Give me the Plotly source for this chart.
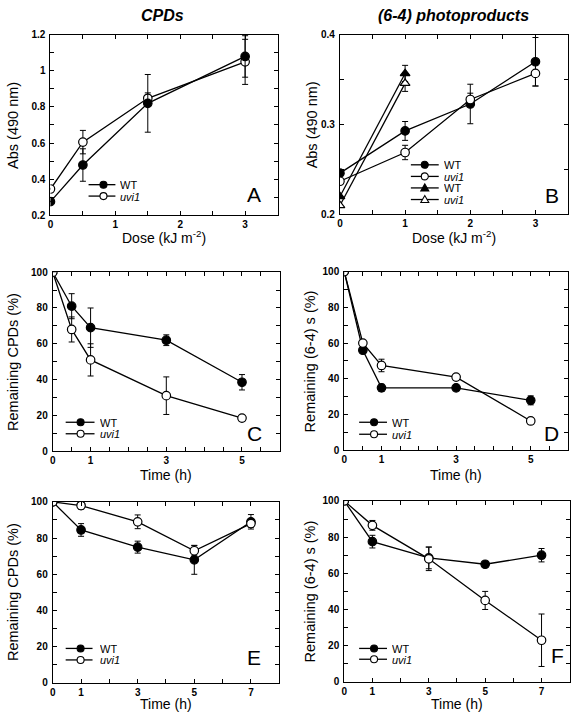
import plotly.graph_objects as go

W, H = 576, 721

# ---------------- data ----------------
A_dose = [0, 0.5, 1.5, 3]
A_wt = [0.275, 0.478, 0.82, 1.08]
A_wt_err = [0, 0.09, 0.16, 0.115]
A_uvi = [0.345, 0.605, 0.848, 1.05]
A_uvi_err = [0, 0.065, 0.03, 0.125]

B_dose = [0, 1, 2, 3]
B_wt = [0.246, 0.293, 0.323, 0.370]
B_wt_err = [0, 0.0105, 0.022, 0.027]
B_uvi = [0.237, 0.269, 0.328, 0.357]
B_uvi_err = [0, 0.008, 0.007, 0.014]
B_dose2 = [0, 1]
B_wt2 = [0.220, 0.357]
B_wt2_err = [0, 0.009]
B_uvi2 = [0.210, 0.346]
B_uvi2_err = [0, 0.009]

C_time = [0, 0.5, 1, 3, 5]
C_wt = [100, 81, 69, 62, 38.5]
C_wt_err = [0, 7, 11, 3, 4.3]
C_uvi = [100, 68, 51, 31, 18.5]
C_uvi_err = [0, 7, 9, 10.5, 0]

D_time = [0, 0.5, 1, 3, 5]
D_wt = [100, 56, 35, 35, 28]
D_wt_err = [0, 0, 2, 0, 2.5]
D_uvi = [100, 60, 47.5, 41, 16.5]
D_uvi_err = [0, 0, 3.5, 1, 1.5]

E_time = [0, 1, 3, 5, 7]
E_wt = [100, 84.5, 75, 68, 89]
E_wt_err = [0, 3.5, 3.3, 8, 4]
E_uvi = [100, 98, 89, 73, 88]
E_uvi_err = [0, 2, 3.8, 2.8, 2]

F_time = [0, 1, 3, 5, 7]
F_wt = [100, 77.5, 68.5, 65, 70]
F_wt_err = [0, 3.5, 6, 0, 3.7]
F_uvi = [100, 86.5, 68, 45, 23]
F_uvi_err = [0, 2.7, 6.5, 5, 14.5]

FONT = "Liberation Sans, Arial, Helvetica, sans-serif"

def px(x):
    return x / W

def py(y):
    return 1 - y / H

fig = go.Figure()

def add_series(ax, x, y, err, symbol, filled):
    fig.add_trace(go.Scatter(
        x=x, y=y, mode="lines+markers",
        xaxis="x" + ("" if ax == 1 else str(ax)),
        yaxis="y" + ("" if ax == 1 else str(ax)),
        line=dict(color="black", width=1.3),
        marker=dict(symbol=symbol, size=8.5,
                    color="black" if filled else "white",
                    line=dict(color="black", width=1.2)),
        error_y=dict(type="data", array=err, visible=True,
                     color="black", thickness=1, width=3),
        showlegend=False, hoverinfo="skip",
    ))

add_series(1, A_dose, A_uvi, A_uvi_err, "circle", False)
add_series(1, A_dose, A_wt, A_wt_err, "circle", True)
add_series(2, B_dose, B_wt, B_wt_err, "circle", True)
add_series(2, B_dose, B_uvi, B_uvi_err, "circle", False)
add_series(2, B_dose2, B_wt2, B_wt2_err, "triangle-up", True)
add_series(2, B_dose2, B_uvi2, B_uvi2_err, "triangle-up", False)
add_series(3, C_time, C_wt, C_wt_err, "circle", True)
add_series(3, C_time, C_uvi, C_uvi_err, "circle", False)
add_series(4, D_time, D_wt, D_wt_err, "circle", True)
add_series(4, D_time, D_uvi, D_uvi_err, "circle", False)
add_series(5, E_time, E_wt, E_wt_err, "circle", True)
add_series(5, E_time, E_uvi, E_uvi_err, "circle", False)
add_series(6, F_time, F_wt, F_wt_err, "circle", True)
add_series(6, F_time, F_uvi, F_uvi_err, "circle", False)

# panel pixel boxes (left, right, top, bottom)
boxes = {
    1: (47.7, 276.0, 29.3, 212.7),
    2: (338.7, 568.0, 29.3, 212.0),
    3: (50.0, 278.3, 270.7, 452.7),
    4: (343.0, 568.0, 270.0, 452.0),
    5: (50.0, 277.7, 504.3, 688.3),
    6: (343.0, 569.7, 503.3, 687.3),
}

tickfont = dict(family=FONT, size=10, color="black", weight="bold")

def axis_common():
    return dict(showline=True, linecolor="black", linewidth=1, mirror="allticks",
                ticks="inside", ticklen=4, tickcolor="black", tickwidth=1,
                showgrid=False, zeroline=False, tickfont=tickfont,
                fixedrange=True)

xcfg = {
    1: dict(range=[0, 3.5], tickvals=[0, 1, 2, 3], minor_dtick=0.5),
    2: dict(range=[0, 3.5], tickvals=[0, 1, 2, 3], minor_dtick=0.5),
    3: dict(range=[0, 6], tickvals=[0, 1, 3, 5], minor_dtick=0.5),
    4: dict(range=[0, 6], tickvals=[0, 1, 3, 5], minor_dtick=0.5),
    5: dict(range=[0, 8], tickvals=[0, 1, 3, 5, 7], minor_dtick=1),
    6: dict(range=[0, 8], tickvals=[0, 1, 3, 5, 7], minor_dtick=1),
}
ycfg = {
    1: dict(range=[0.2, 1.2], tickvals=[0.2, 0.4, 0.6, 0.8, 1.0, 1.2],
            ticktext=["0.2", "0.4", "0.6", "0.8", "1", "1.2"], minor_dtick=0.1),
    2: dict(range=[0.2, 0.4], tickvals=[0.2, 0.3, 0.4],
            ticktext=["0.2", "0.3", "0.4"], minor_dtick=0.05),
}
for k in (3, 4, 5, 6):
    ycfg[k] = dict(range=[0, 100], tickvals=[0, 20, 40, 60, 80, 100],
                   ticktext=["0", "20", "40", "60", "80", "100"], minor_dtick=10)

layout = dict(width=W, height=H, margin=dict(l=0, r=0, t=0, b=0),
              paper_bgcolor="white", plot_bgcolor="white",
              font=dict(family=FONT, color="black"), showlegend=False)

for k in range(1, 7):
    l, r, t, b = boxes[k]
    xs = "xaxis" + ("" if k == 1 else str(k))
    ys = "yaxis" + ("" if k == 1 else str(k))
    xc = xcfg[k]
    yc = ycfg[k]
    xa = axis_common()
    xa.update(domain=[px(l), px(r)], range=xc["range"], tickmode="array",
              tickvals=xc["tickvals"], ticktext=[str(v) for v in xc["tickvals"]],
              anchor="y" + ("" if k == 1 else str(k)),
              minor=dict(ticks="inside", ticklen=4, dtick=xc["minor_dtick"],
                         tickcolor="black", tickwidth=1, showgrid=False))
    ya = axis_common()
    ya.update(domain=[py(b), py(t)], range=yc["range"], tickmode="array",
              tickvals=yc["tickvals"], ticktext=yc["ticktext"],
              anchor="x" + ("" if k == 1 else str(k)), ticklabelstandoff=2,
              minor=dict(ticks="inside", ticklen=4, dtick=yc["minor_dtick"],
                         tickcolor="black", tickwidth=1, showgrid=False))
    layout[xs] = xa
    layout[ys] = ya

fig.update_layout(**layout)

annotations = []
shapes = []

def text(x, y, s, size, angle=0, bold=False, italic=False):
    annotations.append(dict(
        x=px(x), y=py(y), xref="paper", yref="paper", text=s, showarrow=False,
        xanchor="center", yanchor="middle", textangle=angle,
        font=dict(family=FONT, size=size, color="black",
                  weight="bold" if bold else "normal",
                  style="italic" if italic else "normal")))

# column titles
text(160, 10, "CPDs", 16, bold=True, italic=True)
text(453, 10, "(6-4) photoproducts", 16, bold=True, italic=True)

# axis titles
dose_title = "Dose (kJ m<sup>-2</sup>)"
text(162, 235, dose_title, 14)
text(453, 235, dose_title, 14)
text(164, 477, "Time (h)", 14)
text(455, 477, "Time (h)", 14)
text(164, 710, "Time (h)", 14)
text(456, 710, "Time (h)", 14)
text(10, 121, "Abs (490 nm)", 14.5, angle=-90)
text(311, 121, "Abs (490 nm)", 14.5, angle=-90)
text(10, 362, "Remaining CPDs (%)", 14.5, angle=-90)
text(309, 361, "Remaining (6-4) s (%)", 14.5, angle=-90)
text(10, 596, "Remaining CPDs (%)", 14.5, angle=-90)
text(309, 595, "Remaining (6-4) s (%)", 14.5, angle=-90)

# panel letters
for letter, (lx, ly) in {"A": (252, 192), "B": (552, 193), "C": (253, 435),
                         "D": (551, 435), "E": (252, 663), "F": (557, 661)}.items():
    text(lx, ly, letter, 21)

# legend glyphs
def legend_entry(x0, x1, xm, xt, y, label, symbol, filled):
    shapes.append(dict(type="line", xref="paper", yref="paper",
                       x0=px(x0), x1=px(x1), y0=py(y), y1=py(y),
                       line=dict(color="black", width=1.3)))
    fill = "black" if filled else "white"
    if symbol == "circle":
        shapes.append(dict(type="circle", xref="paper", yref="paper",
                           xsizemode="pixel", ysizemode="pixel",
                           xanchor=px(xm), yanchor=py(y),
                           x0=-3.5, x1=3.5, y0=-3.5, y1=3.5,
                           fillcolor=fill, line=dict(color="black", width=1.1)))
    else:
        shapes.append(dict(type="path", xref="paper", yref="paper",
                           xsizemode="pixel", ysizemode="pixel",
                           xanchor=px(xm), yanchor=py(y),
                           path="M -4,-3 L 4,-3 L 0,4 Z",
                           fillcolor=fill, line=dict(color="black", width=1.1)))
    annotations.append(dict(
        x=px(xt), y=py(y), xref="paper", yref="paper", text=label, showarrow=False,
        xanchor="left", yanchor="middle", height=11, borderpad=0,
        font=dict(family=FONT, size=11, color="black")))

WT = "WT"
UVI = "<i>uvi1</i>"
legend_entry(86, 113, 101, 117, 181.7, WT, "circle", True)
legend_entry(86, 113, 101, 117, 193.3, UVI, "circle", False)
legend_entry(410, 438, 424, 442, 161.5, WT, "circle", True)
legend_entry(410, 438, 424, 442, 173.3, UVI, "circle", False)
legend_entry(410, 438, 424, 442, 185.0, WT, "triangle", True)
legend_entry(410, 438, 424, 442, 196.8, UVI, "triangle", False)
legend_entry(63, 92, 78, 96, 423.3, WT, "circle", True)
legend_entry(63, 92, 78, 96, 435.0, UVI, "circle", False)
legend_entry(358, 386, 373, 390, 423.3, WT, "circle", True)
legend_entry(358, 386, 373, 390, 435.5, UVI, "circle", False)
legend_entry(63, 90, 78, 96, 653.3, WT, "circle", True)
legend_entry(63, 90, 78, 96, 665.0, UVI, "circle", False)
legend_entry(358, 386, 373, 390, 653.3, WT, "circle", True)
legend_entry(358, 386, 373, 390, 664.3, UVI, "circle", False)

fig.update_layout(annotations=annotations, shapes=shapes)

fig.write_html(
    "out.html",
    config={"displayModeBar": False, "staticPlot": True},
    post_script="document.body.style.margin='0';document.body.style.overflow='hidden';",
)
